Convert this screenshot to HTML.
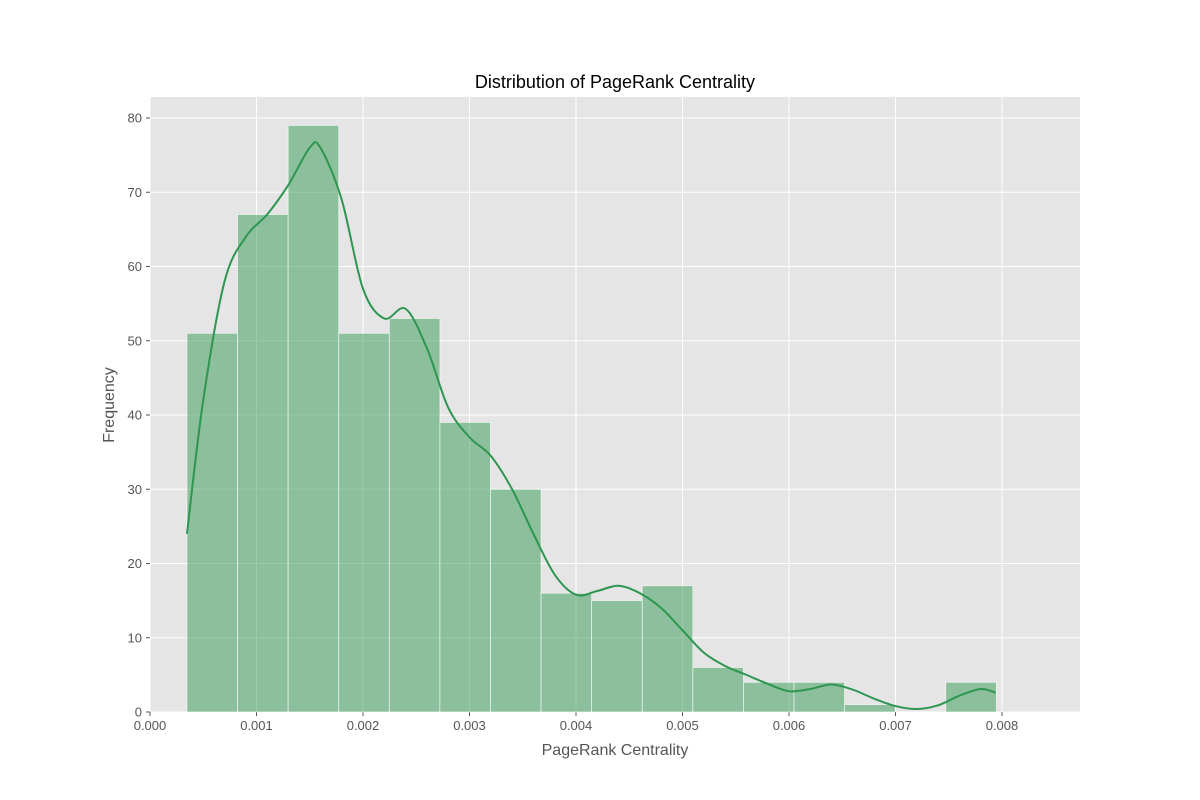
<!DOCTYPE html>
<html><head><meta charset="utf-8"><style>
body{margin:0;background:#fff;}
svg{display:block;font-family:"Liberation Sans","DejaVu Sans",sans-serif;}
</style></head><body>
<svg id="chart" width="1200" height="800"></svg>
<script>
const binStart = 0.000347;
const binWidth = 0.000475;
const counts = [51,67,79,51,53,39,30,16,15,17,6,4,4,1,0,4];
const kdeX = [0.000347,0.0005,0.0007,0.0009,0.0011,0.0013,0.0015,0.0016,0.0018,0.0020,0.0022,0.0024,0.0026,0.0028,0.0030,0.0032,0.0034,0.0036,0.0038,0.0040,0.0042,0.0044,0.0046,0.0048,0.0050,0.0052,0.0054,0.0056,0.0058,0.0060,0.0062,0.0064,0.0066,0.0068,0.0070,0.0072,0.0074,0.0076,0.0078,0.00794];
const kdeY = [24,42,58,64,67,71,76,76,69,57,53,54.3,49,41,37,34.5,30,24,18.5,15.8,16.3,17,16,14,11,8,6.2,5,3.8,2.8,3.1,3.7,3,1.8,0.8,0.4,0.9,2.2,3.1,2.6];
const xTicks = [0,0.001,0.002,0.003,0.004,0.005,0.006,0.007,0.008];
const xTickLabels = ["0.000","0.001","0.002","0.003","0.004","0.005","0.006","0.007","0.008"];
const yTicks = [0,10,20,30,40,50,60,70,80];

const L=150,R=1080,T=97,B=712;
const X=v=>150+v*106500;
const Y=v=>712-v*7.425;
const NS="http://www.w3.org/2000/svg";
const svg=document.getElementById('chart');
function mk(tag,attrs,parent){const e=document.createElementNS(NS,tag);for(const k in attrs)e.setAttribute(k,attrs[k]);(parent||svg).appendChild(e);return e;}

const bg=mk('rect',{x:L,y:T,width:R-L,height:B-T,fill:'#e5e5e5'});


const grid=mk('g',{});


xTicks.forEach((t,i)=>{
  mk('line',{x1:X(t),x2:X(t),y1:T,y2:B,stroke:'#fff','stroke-width':1},grid);
  mk('line',{x1:X(t),x2:X(t),y1:B,y2:B+4,stroke:'#555','stroke-width':1});
  const tx=mk('text',{x:X(t),y:B+18,'text-anchor':'middle','font-size':13,fill:'#555'});
  tx.textContent=xTickLabels[i];
  
  
});
yTicks.forEach(t=>{
  mk('line',{x1:L,x2:R,y1:Y(t),y2:Y(t),stroke:'#fff','stroke-width':1},grid);
  mk('line',{x1:L-4,x2:L,y1:Y(t),y2:Y(t),stroke:'#555','stroke-width':1});
  const tx=mk('text',{x:L-8,y:Y(t)+4.5,'text-anchor':'end','font-size':13,fill:'#555'});
  tx.textContent=t;
  
  
});
counts.forEach((c,i)=>{
  const x0=X(binStart+i*binWidth),x1=X(binStart+(i+1)*binWidth);
  const r=mk('rect',{x:x0,y:Y(c),width:x1-x0,height:Y(0)-Y(c),fill:'rgba(68,160,95,0.55)',stroke:'#fff','stroke-width':0.8,'stroke-opacity':0.7});
  
  
});
// smooth curve (catmull-rom)
const pts=kdeX.map((v,i)=>[X(v),Y(kdeY[i])]);
let d='M'+pts[0][0]+','+pts[0][1];
for(let i=0;i<pts.length-1;i++){
  const p0=pts[Math.max(0,i-1)],p1=pts[i],p2=pts[i+1],p3=pts[Math.min(pts.length-1,i+2)];
  const c1=[p1[0]+(p2[0]-p0[0])/6,p1[1]+(p2[1]-p0[1])/6];
  const c2=[p2[0]-(p3[0]-p1[0])/6,p2[1]-(p3[1]-p1[1])/6];
  d+=`C${c1[0]},${c1[1]} ${c2[0]},${c2[1]} ${p2[0]},${p2[1]}`;
}
const kde=mk('path',{d:d,fill:'none',stroke:'#2e9650','stroke-width':2});



const title=mk('text',{x:615,y:88,'text-anchor':'middle','font-size':18,fill:'#000'});
title.textContent='Distribution of PageRank Centrality';


const xl=mk('text',{x:615,y:755,'text-anchor':'middle','font-size':16,fill:'#555'});
xl.textContent='PageRank Centrality';


const yl=mk('text',{x:114,y:405,'text-anchor':'middle','font-size':16,fill:'#555',transform:'rotate(-90 114 405)'});
yl.textContent='Frequency';


</script>
</body></html>
